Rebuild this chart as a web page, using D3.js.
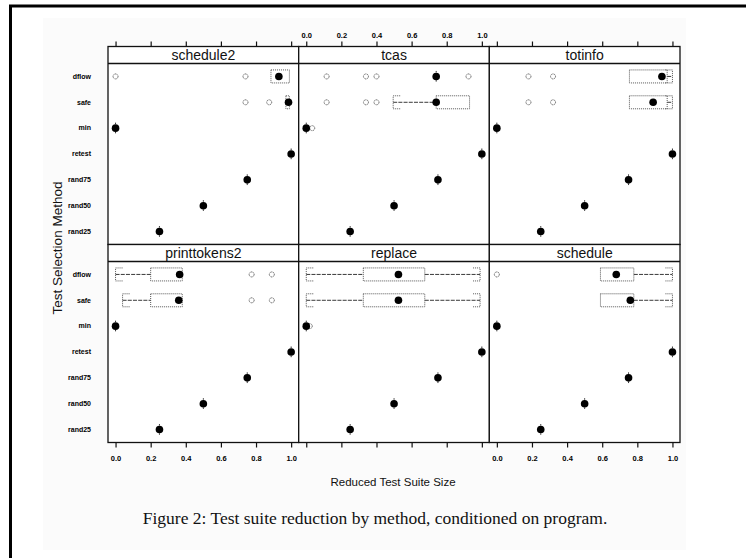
<!DOCTYPE html>
<html><head><meta charset="utf-8">
<script src="https://cdn.jsdelivr.net/npm/d3@7"></script>
<style>body{margin:0;background:#fff} svg{display:block}</style>
</head><body><svg id="c" width="746" height="558"></svg>
<script>
// ---------- data ----------
const programs = ["schedule2", "tcas", "totinfo", "printtokens2", "replace", "schedule"];
const methods = ["dflow", "safe", "min", "retest", "rand75", "rand50", "rand25"];
const xTicks = [0, 0.2, 0.4, 0.6, 0.8, 1.0];

// box stats per method (same order as methods): [lowWhisker, q1, median, q3, highWhisker]
const schedule2Box = [[0.885,0.885,0.93,0.99,0.99],[0.97,0.97,0.985,0.99,0.99],[0,0,0,0,0],[1,1,1,1,1],[0.75,0.75,0.75,0.75,0.75],[0.5,0.5,0.5,0.5,0.5],[0.25,0.25,0.25,0.25,0.25]];
const schedule2Out = [[0.0,0.74],[0.74,0.875],[],[],[],[],[]];

const tcasBox = [[0.74,0.74,0.74,0.74,0.74],[0.495,0.74,0.74,0.93,0.93],[0,0,0,0,0],[1,1,1,1,1],[0.75,0.75,0.75,0.75,0.75],[0.5,0.5,0.5,0.5,0.5],[0.25,0.25,0.25,0.25,0.25]];
const tcasOut = [[0.116,0.34,0.40,0.924],[0.116,0.34,0.40],[0.034],[],[],[],[]];

const totinfoBox = [[0.755,0.755,0.94,0.97,1.0],[0.755,0.755,0.89,0.97,1.0],[0,0,0,0,0],[1,1,1,1,1],[0.75,0.75,0.75,0.75,0.75],[0.5,0.5,0.5,0.5,0.5],[0.25,0.25,0.25,0.25,0.25]];
const totinfoOut = [[0.18,0.32],[0.18,0.32],[],[],[],[],[]];

const printtokens2Box = [[0.0,0.2,0.365,0.38,0.38],[0.04,0.2,0.36,0.38,0.38],[0,0,0,0,0],[1,1,1,1,1],[0.75,0.75,0.75,0.75,0.75],[0.5,0.5,0.5,0.5,0.5],[0.25,0.25,0.25,0.25,0.25]];
const printtokens2Out = [[0.775,0.89],[0.775,0.89],[],[],[],[],[]];

const replaceBox = [[0.0,0.325,0.525,0.675,0.99],[0.0,0.325,0.525,0.675,0.99],[0,0,0,0,0],[1,1,1,1,1],[0.75,0.75,0.75,0.75,0.75],[0.5,0.5,0.5,0.5,0.5],[0.25,0.25,0.25,0.25,0.25]];
const replaceOut = [[],[],[0.02],[],[],[],[]];

const scheduleBox = [[0.59,0.59,0.68,0.78,1.0],[0.59,0.59,0.76,0.78,1.0],[0,0,0,0,0],[1,1,1,1,1],[0.75,0.75,0.75,0.75,0.75],[0.5,0.5,0.5,0.5,0.5],[0.25,0.25,0.25,0.25,0.25]];
const scheduleOut = [[0.0],[],[],[],[],[],[]];

const boxes = [schedule2Box, tcasBox, totinfoBox, printtokens2Box, replaceBox, scheduleBox];
const outs = [schedule2Out, tcasOut, totinfoOut, printtokens2Out, replaceOut, scheduleOut];

const xTitle = "Reduced Test Suite Size";
const yTitle = "Test Selection Method";
const caption = "Figure 2: Test suite reduction by method, conditioned on program.";

// ---------- layout ----------
const svg = d3.select("#c");
const colLeft = [108, 298.7, 489.3], colW = 190.7;
const rowTop = [46.5, 244.5], stripH = 17, dataH = 181;
const boxH = 13, bracketW = 7;
const sans = "'Liberation Sans', Arial, Helvetica, sans-serif";

// page background / frame
svg.append("rect").attr("x",43).attr("y",18).attr("width",643).attr("height",532).attr("fill","#fbfbfb");
svg.append("line").attr("x1",9).attr("x2",746).attr("y1",6).attr("y2",6).attr("stroke","#000").attr("stroke-width",3);
svg.append("line").attr("x1",10.5).attr("x2",10.5).attr("y1",5).attr("y2",558).attr("stroke","#000").attr("stroke-width",3);

programs.forEach((p, i) => {
  const col = i % 3, row = Math.floor(i / 3);
  const left = colLeft[col], top = rowTop[row];
  const x = d3.scaleLinear().domain([-0.043, 1.043]).range([left, left + colW]);
  const y = d3.scaleBand().domain(methods).range([top + stripH, top + stripH + dataH]);
  const cy = m => y(m) + y.bandwidth() / 2;
  const g = svg.append("g");

  // panel background + strip
  g.append("rect").attr("x", left).attr("y", top).attr("width", colW).attr("height", stripH + dataH)
    .attr("fill", "#fff").attr("stroke", "#111").attr("stroke-width", 1.3);
  g.append("line").attr("x1", left).attr("x2", left + colW).attr("y1", top + stripH).attr("y2", top + stripH)
    .attr("stroke", "#111").attr("stroke-width", 1.3);
  g.append("text").attr("x", left + colW / 2).attr("y", top + stripH - 3.5).attr("text-anchor", "middle")
    .attr("font-family", sans).attr("font-size", 14).attr("fill", "#111").text(p);

  // boxes
  methods.forEach((m, j) => {
    const [lo, q1, med, q3, hi] = boxes[i][j];
    const yc = cy(m);
    const dotted = sel => sel.attr("stroke", "#444").attr("stroke-width", 0.9).attr("stroke-dasharray", "1,1").attr("fill", "none");
    // whiskers
    if (lo < q1) {
      g.append("line").attr("x1", x(lo)).attr("x2", x(q1)).attr("y1", yc).attr("y2", yc)
        .attr("stroke", "#222").attr("stroke-width", 0.9).attr("stroke-dasharray", "4,1.2");
      g.append("path").attr("d", `M${x(lo)+bracketW},${yc-boxH/2}H${x(lo)}V${yc+boxH/2}H${x(lo)+bracketW}`).call(dotted);
    }
    if (hi > q3) {
      g.append("line").attr("x1", x(q3)).attr("x2", x(hi)).attr("y1", yc).attr("y2", yc)
        .attr("stroke", "#222").attr("stroke-width", 0.9).attr("stroke-dasharray", "4,1.2");
      g.append("path").attr("d", `M${x(hi)-bracketW},${yc-boxH/2}H${x(hi)}V${yc+boxH/2}H${x(hi)-bracketW}`).call(dotted);
    }
    // box (drawn as a path so a zero-width box still shows as a vertical tick)
    const b0 = x(q1), b1 = x(q3), t = yc - boxH / 2, bt = yc + boxH / 2;
    if (b1 - b0 < 0.5) {
      g.append("line").attr("x1", b0).attr("x2", b0).attr("y1", t + 1).attr("y2", bt - 1)
        .attr("stroke", "#333").attr("stroke-width", 1).attr("stroke-dasharray", "1.5,0.8");
    } else {
      g.append("path").attr("d", `M${b0},${t}H${b1}V${bt}H${b0}Z`).call(dotted);
    }
    // outliers
    outs[i][j].forEach(v => {
      g.append("circle").attr("cx", x(v)).attr("cy", yc).attr("r", 2.5)
        .attr("fill", "none").attr("stroke", "#555").attr("stroke-width", 0.9).attr("stroke-dasharray", "1.2,0.6");
    });
    // median
    g.append("circle").attr("cx", x(med)).attr("cy", yc).attr("r", 3.8).attr("fill", "#000");
  });

  // axes
  const fmt = d3.format(".1f");
  const styleAxis = a => {
    a.select(".domain").remove();
    a.selectAll("line").attr("stroke", "#111").attr("stroke-width", 1.2);
    a.selectAll("text").attr("font-family", sans).attr("font-size", 7.5).attr("font-weight", "bold").attr("fill", "#000");
  };
  if (row === 0) {
    const ax = d3.axisTop(x).tickValues(xTicks).tickSize(5).tickPadding(4)
      .tickFormat(col === 1 ? fmt : () => "");
    svg.append("g").attr("transform", `translate(0,${top})`).call(ax).call(styleAxis);
  } else {
    const ax = d3.axisBottom(x).tickValues(xTicks).tickSize(5).tickPadding(8)
      .tickFormat(col !== 1 ? fmt : () => "");
    svg.append("g").attr("transform", `translate(0,${top + stripH + dataH})`).call(ax).call(styleAxis);
  }
  if (col === 0) {
    const ay = d3.axisLeft(y).tickSize(0).tickPadding(17);
    const a = svg.append("g").attr("transform", `translate(${left},0)`).call(ay);
    a.select(".domain").remove();
    a.selectAll("text").attr("font-family", sans).attr("font-size", 7).attr("font-weight", "bold").attr("fill", "#000");
  }
});

// titles
svg.append("text").attr("x", 393).attr("y", 486).attr("text-anchor", "middle")
  .attr("font-family", sans).attr("font-size", 11.5).attr("fill", "#111").text(xTitle);
svg.append("text").attr("transform", "translate(62,248) rotate(-90)").attr("text-anchor", "middle")
  .attr("font-family", sans).attr("font-size", 13.5).attr("fill", "#111").text(yTitle);
svg.append("text").attr("x", 375).attr("y", 524).attr("text-anchor", "middle")
  .attr("font-family", "'Liberation Serif', 'DejaVu Serif', serif").attr("font-size", 17.5).attr("fill", "#111").text(caption);
</script></body></html>
